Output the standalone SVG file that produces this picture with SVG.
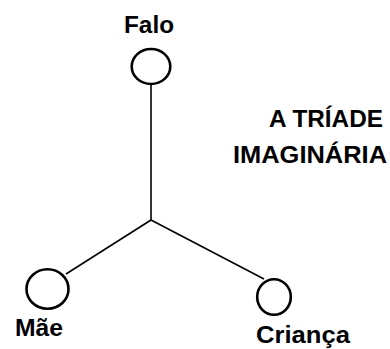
<svg xmlns="http://www.w3.org/2000/svg" width="390" height="349" viewBox="0 0 390 349">
  <style>
    .node { fill: none; stroke: #000; stroke-width: 2.6; }
    .edge { stroke: #000; stroke-width: 1.6; fill: none; }
    .label { font-family: "Liberation Sans", Arial, sans-serif; font-weight: bold; font-size: 24px; fill: #000; }
  </style>
  <rect width="390" height="349" fill="#fff"/>

  <!-- connectors meeting at the centre point -->
  <g id="connectors">
    <line class="edge" x1="151" y1="85" x2="151" y2="220"/>
    <line class="edge" x1="151" y1="220" x2="66" y2="274"/>
    <line class="edge" x1="151" y1="220" x2="264" y2="279"/>
  </g>

  <g id="falo">
    <ellipse class="node" cx="151" cy="66.5" rx="19.3" ry="17.5"/>
    <text class="label" x="124" y="33" textLength="50" lengthAdjust="spacingAndGlyphs">Falo</text>
  </g>

  <g id="mae">
    <ellipse class="node" cx="47.5" cy="289" rx="21" ry="19.8"/>
    <text class="label" x="15" y="336" textLength="48" lengthAdjust="spacingAndGlyphs">Mãe</text>
  </g>

  <g id="crianca">
    <ellipse class="node" cx="274" cy="297" rx="16.8" ry="17.8"/>
    <text class="label" x="256" y="343" textLength="94" lengthAdjust="spacingAndGlyphs">Criança</text>
  </g>

  <g id="title">
    <text class="label" x="269" y="127" textLength="114" lengthAdjust="spacingAndGlyphs">A TRÍADE</text>
    <text class="label" x="233" y="163" textLength="154" lengthAdjust="spacingAndGlyphs">IMAGINÁRIA</text>
  </g>
</svg>
